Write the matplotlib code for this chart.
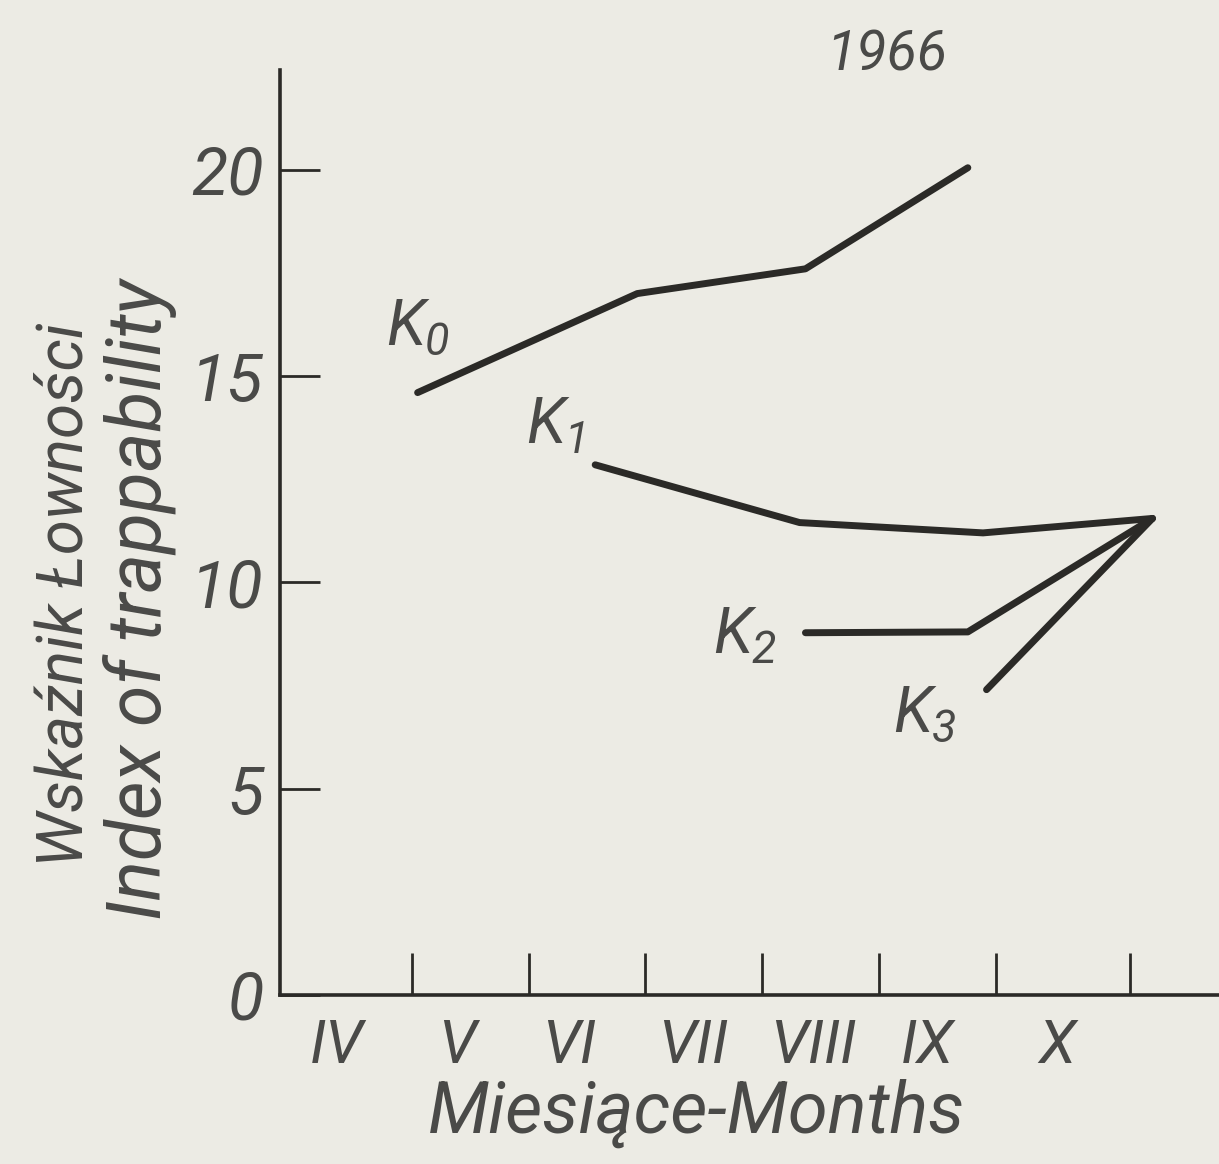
import numpy as np
import matplotlib
matplotlib.use("Agg")
import matplotlib.pyplot as plt

# month boundaries (IV starts at 0) and index values
k0_x = [1.05, 2.93, 4.37, 5.76]
k0_y = [14.6, 17.0, 17.6, 20.05]
k1_x = [2.57, 4.32, 5.89, 7.34]
k1_y = [12.85, 11.45, 11.2, 11.55]
k2_x = [4.37, 5.76, 7.34]
k2_y = [8.78, 8.8, 11.55]
k3_x = [5.92, 7.34]
k3_y = [7.4, 11.55]

months = ["IV", "V", "VI", "VII", "VIII", "IX", "X"]
month_pos = [0.36, 1.39, 2.35, 3.41, 4.44, 5.41, 6.52]
month_edges = [1, 2, 3, 4, 5, 6, 7.15]
yticks = [0, 5, 10, 15, 20]

ink = "#2b2a27"
txt = "#4a4a48"
bg = "#ecebe4"
fnt = "Roboto"

plt.rcParams['font.family'] = [fnt, 'DejaVu Sans']
plt.rcParams['font.style'] = 'italic'
plt.rcParams['mathtext.fontset'] = 'custom'
plt.rcParams['mathtext.it'] = fnt + ':italic'
plt.rcParams['mathtext.rm'] = fnt + ':italic'

fig = plt.figure(figsize=(12.19, 11.64), dpi=100, facecolor=bg)
ax = fig.add_axes([0.2297, 0.1452, 0.7703, 0.7947])
ax.set_facecolor(bg)

for xs, ys in [(k0_x, k0_y), (k1_x, k1_y), (k2_x, k2_y), (k3_x, k3_y)]:
    ax.plot(xs, ys, color=ink, lw=5, solid_capstyle='round', solid_joinstyle='round')

ax.set_xlim(-0.128, 7.91)
ax.set_ylim(0, 22.42)

for s in ['top', 'right']:
    ax.spines[s].set_visible(False)
for s in ['left', 'bottom']:
    ax.spines[s].set_linewidth(2.6)
    ax.spines[s].set_color(ink)

ax.set_yticks(yticks)
ax.set_yticklabels([str(v) for v in yticks])
ax.tick_params(axis='y', direction='in', length=29, width=2, colors=ink,
               labelcolor=txt, labelsize=48, pad=12)

ax.set_xticks(month_edges)
ax.set_xticklabels([])
ax.set_xticks(month_pos, minor=True)
ax.set_xticklabels(months, minor=True)
ax.tick_params(axis='x', which='major', direction='in', length=30, width=2, colors=ink)
ax.tick_params(axis='x', which='minor', length=0, labelcolor=txt, labelsize=44, pad=16)

# series labels
ax.text(1.05, 16.2, "$K_0$", fontsize=46, color=txt, ha='center', va='center')
ax.text(2.23, 13.8, "$K_1$", fontsize=46, color=txt, ha='center', va='center')
ax.text(3.85, 8.7, "$K_2$", fontsize=46, color=txt, ha='center', va='center')
ax.text(5.39, 6.8, "$K_3$", fontsize=46, color=txt, ha='center', va='center')

fig.text(887/1219, 1 - 55/1164, "1966", fontsize=40, color=txt, ha='center', va='center')
fig.text(697/1219, 1 - 1113/1164, "Miesiące-Months", fontsize=52, color=txt, ha='center', va='center')
fig.text(65/1219, 1 - 595/1164, "Wskaźnik Łowności", fontsize=46, color=txt,
         rotation=90, ha='center', va='center')
fig.text(140/1219, 1 - 600/1164, "Index of trappability", fontsize=54, color=txt,
         rotation=90, ha='center', va='center')

plt.savefig("out.png", dpi=100, facecolor=bg)
